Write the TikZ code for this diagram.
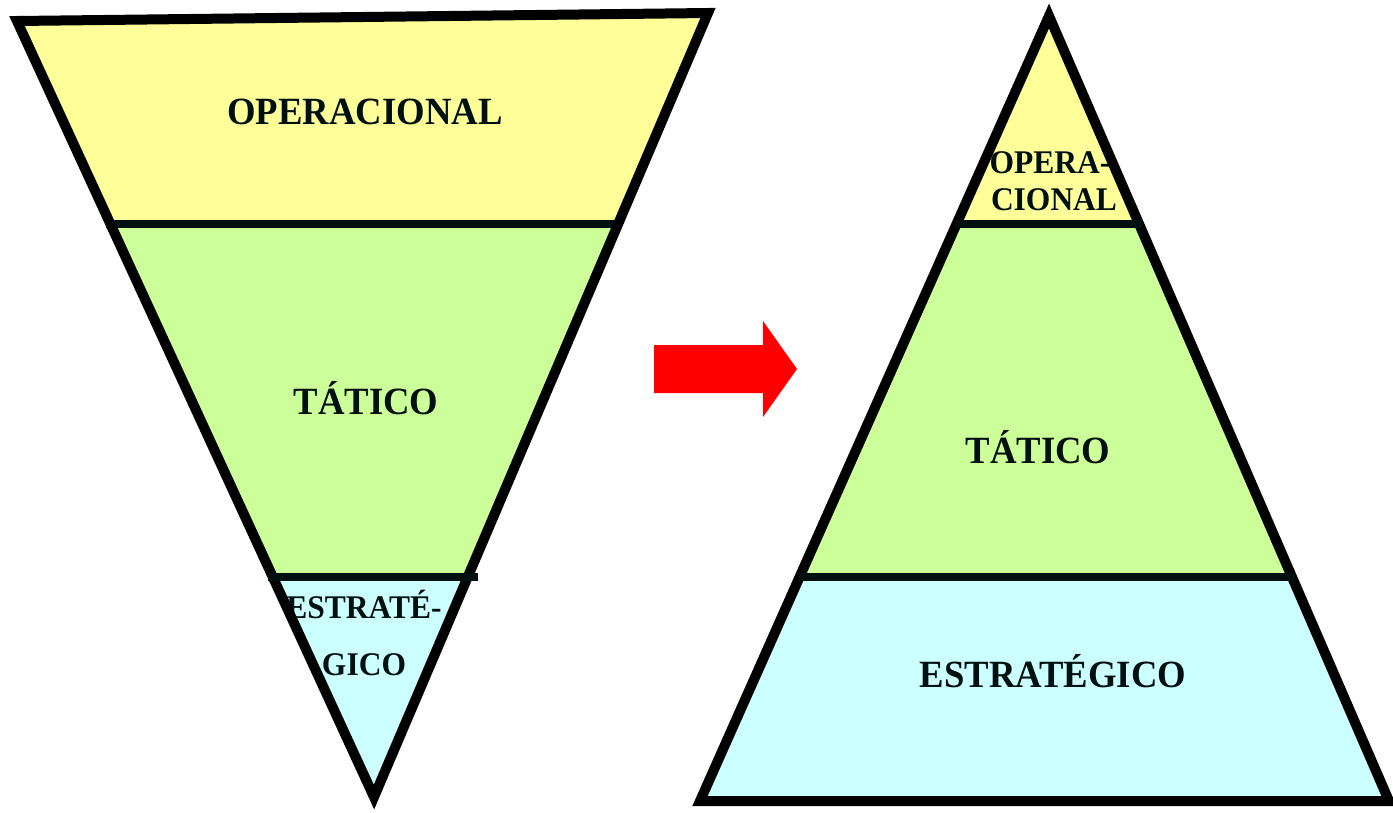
\documentclass[tikz,border=0pt]{standalone}
\usepackage{fontspec}
\setmainfont{Liberation Serif}
\definecolor{opyel}{HTML}{FFFF99}
\definecolor{tagrn}{HTML}{CCFF99}
\definecolor{escyan}{HTML}{CCFFFF}
\definecolor{txtc}{HTML}{001010}
\definecolor{arred}{HTML}{FF0000}
\tikzset{
  outline/.style={draw=black, line width=10pt, line join=miter},
  divider/.style={draw=txtc, line width=8pt},
  bigtxt/.style={font=\fontsize{36.7}{40}\selectfont\bfseries, text=txtc, inner sep=0pt, anchor=base, yscale=1.05, transform shape},
  smalltxt/.style={font=\fontsize{31.5}{34}\selectfont\bfseries, text=txtc, inner sep=0pt, anchor=base, yscale=1.05, transform shape},
}
\begin{document}
\begin{tikzpicture}[x=1pt,y=-1pt]
\useasboundingbox (0,0) rectangle (1393,812);
% ---------- left inverted triangle ----------
\coordinate (LTL) at (17,21);
\coordinate (LTR) at (708,13);
\coordinate (LAP) at (374,797);
\coordinate (L1a) at (110,224);
\coordinate (L1b) at (618,224);
\coordinate (L2a) at (273,577);
\coordinate (L2b) at (468,577);
\fill[opyel] (LTL) -- (LTR) -- (L1b) -- (L1a) -- cycle;
\fill[tagrn] (L1a) -- (L1b) -- (L2b) -- (L2a) -- cycle;
\fill[escyan] (L2a) -- (L2b) -- (LAP) -- cycle;
\node[bigtxt] (lop) at (365,124) {OPERACIONAL};
\node[bigtxt] (lta) at (366,414) {TÁTICO};
\node[smalltxt] (les1) at (364,618) {ESTRATÉ-};
\node[smalltxt] (les2) at (364,675) {GICO};
\draw[divider] (106,224) -- (622,224);
\draw[outline] (LTL) -- (LTR) -- (LAP) -- cycle;
\draw[divider] (268,577) -- (478,577);
% ---------- arrow ----------
\fill[arred] (654,345) -- (763,345) -- (763,321) -- (797,369) -- (763,417) -- (763,393) -- (654,393) -- cycle;
% ---------- right pyramid ----------
\coordinate (RAP) at (1049,16);
\coordinate (RBL) at (700,801);
\coordinate (RBR) at (1389,801);
\coordinate (R1a) at (956,224);
\coordinate (R1b) at (1142,224);
\coordinate (R2a) at (799,577);
\coordinate (R2b) at (1295,577);
\fill[opyel] (RAP) -- (R1b) -- (R1a) -- cycle;
\fill[tagrn] (R1a) -- (R1b) -- (R2b) -- (R2a) -- cycle;
\fill[escyan] (R2a) -- (R2b) -- (RBR) -- (RBL) -- cycle;
\node[smalltxt] (rop1) at (1050,173) {OPERA-};
\node[smalltxt] (rop2) at (1054,210) {CIONAL};
\node[bigtxt] (rta) at (1038,463) {TÁTICO};
\node[bigtxt] (res) at (1053,687) {ESTRATÉGICO};
\draw[outline] (RAP) -- (RBR) -- (RBL) -- cycle;
\draw[divider] (956,224) -- (1142,224);
\draw[divider] (799,577) -- (1295,577);
\end{tikzpicture}
\end{document}
